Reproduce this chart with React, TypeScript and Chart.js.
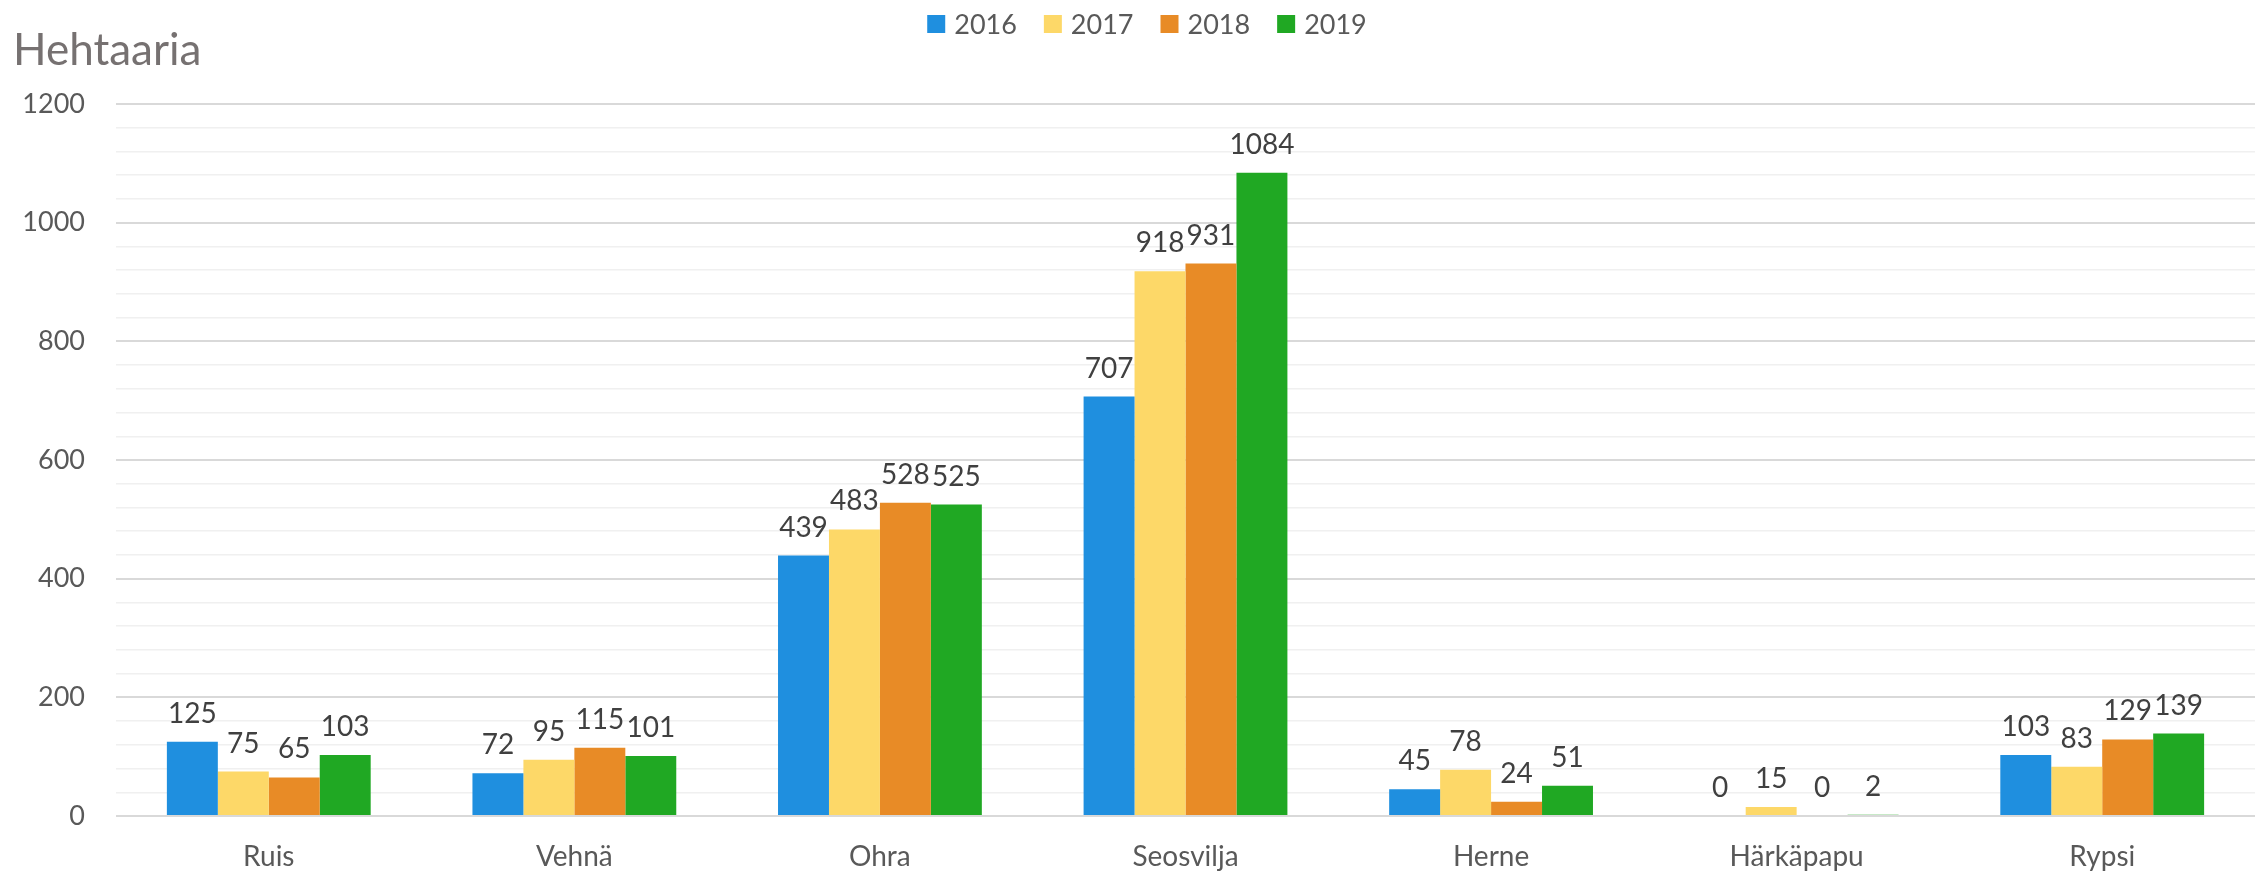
import React, { useEffect, useRef } from "react";
import { Chart, registerables } from "chart.js";

Chart.register(...registerables);

const categories = ["Ruis", "Vehnä", "Ohra", "Seosvilja", "Herne", "Härkäpapu", "Rypsi"];
const years = ["2016", "2017", "2018", "2019"];
const values2016 = [125, 72, 439, 707, 45, 0, 103];
const values2017 = [75, 95, 483, 918, 78, 15, 83];
const values2018 = [65, 115, 528, 931, 24, 0, 129];
const values2019 = [103, 101, 525, 1084, 51, 2, 139];
const yMin = 0;
const yMax = 1200;
const yMajorStep = 200;
const yMinorStep = 40;
const yTitle = "Hehtaaria";

const seriesValues = [values2016, values2017, values2018, values2019];
const seriesColors = ["#1F8FDF", "#FDD868", "#E88B26", "#20A823"];

const FONT = "Lato, 'Open Sans', sans-serif";

const dataLabelPlugin = {
  id: "dataLabels",
  afterDatasetsDraw(chart: any) {
    const ctx = chart.ctx;
    ctx.save();
    ctx.font = `28px ${FONT}`;
    ctx.fillStyle = "#404040";
    ctx.textAlign = "center";
    ctx.textBaseline = "alphabetic";
    chart.data.datasets.forEach((ds: any, i: number) => {
      const meta = chart.getDatasetMeta(i);
      meta.data.forEach((bar: any, j: number) => {
        ctx.fillText(String(ds.data[j]), bar.x, bar.y - 19);
      });
    });
    ctx.restore();
  },
};

const headerPlugin = {
  id: "header",
  afterDraw(chart: any) {
    const ctx = chart.ctx;
    ctx.save();
    // title
    ctx.font = `44px ${FONT}`;
    ctx.fillStyle = "#767171";
    ctx.textAlign = "left";
    ctx.textBaseline = "alphabetic";
    ctx.fillText(yTitle, 13, 65);
    // legend
    ctx.font = `27px ${FONT}`;
    const box = 18;
    const textGap = 9;
    const itemGap = 27;
    const items = chart.data.datasets.map((ds: any) => ({
      label: ds.label,
      color: ds.backgroundColor,
      w: ctx.measureText(ds.label).width,
    }));
    const total = items.reduce((s: number, it: any) => s + box + textGap + it.w, 0) + itemGap * (items.length - 1);
    let x = 1147 - total / 2;
    ctx.textBaseline = "middle";
    items.forEach((it: any) => {
      ctx.fillStyle = it.color;
      ctx.fillRect(x, 15, box, box);
      x += box + textGap;
      ctx.fillStyle = "#595959";
      ctx.fillText(it.label, x, 25);
      x += it.w + itemGap;
    });
    ctx.restore();
  },
};

export default function App() {
  const canvasRef = useRef<HTMLCanvasElement | null>(null);

  useEffect(() => {
    if (!canvasRef.current) return;
    const chart = new Chart(canvasRef.current, {
      type: "bar",
      data: {
        labels: categories,
        datasets: years.map((y, i) => ({
          label: y,
          data: seriesValues[i],
          backgroundColor: seriesColors[i],
          borderWidth: 0,
          categoryPercentage: 0.667,
          barPercentage: 1,
        })),
      },
      plugins: [dataLabelPlugin, headerPlugin],
      options: {
        responsive: false,
        animation: false,
        layout: { padding: { left: 14, right: 4, top: 104, bottom: 0 } },
        plugins: {
          legend: { display: false },
          title: { display: false },
          tooltip: { enabled: false },
        },
        scales: {
          x: {
            grid: { display: false, drawTicks: false },
            border: { display: false },
            ticks: {
              color: "#595959",
              font: { family: FONT, size: 28 },
              padding: 24,
              maxRotation: 0,
            },
            afterFit(scale: any) {
              scale.height = 59;
            },
          },
          y: {
            min: yMin,
            max: yMax,
            border: { display: false },
            grid: {
              drawTicks: false,
              color: (c: any) => (c.tick && c.tick.value % yMajorStep === 0 ? "#D9D9D9" : "#F0F0F0"),
              lineWidth: (c: any) => (c.tick && c.tick.value % yMajorStep === 0 ? 2 : 1.5),
            },
            ticks: {
              stepSize: yMinorStep,
              autoSkip: false,
              color: "#595959",
              font: { family: FONT, size: 27 },
              padding: 31,
              callback: (v: any) => (Number(v) % yMajorStep === 0 ? String(v) : ""),
            },
            afterFit(scale: any) {
              scale.width = 102;
            },
          },
        },
      },
    } as any);
    return () => chart.destroy();
  }, []);

  return (
    <div style={{ position: "fixed", left: 0, top: 0, width: 2259, height: 875, background: "#fff" }}>
      <canvas ref={canvasRef} width={2259} height={875} style={{ display: "block" }} />
    </div>
  );
}
